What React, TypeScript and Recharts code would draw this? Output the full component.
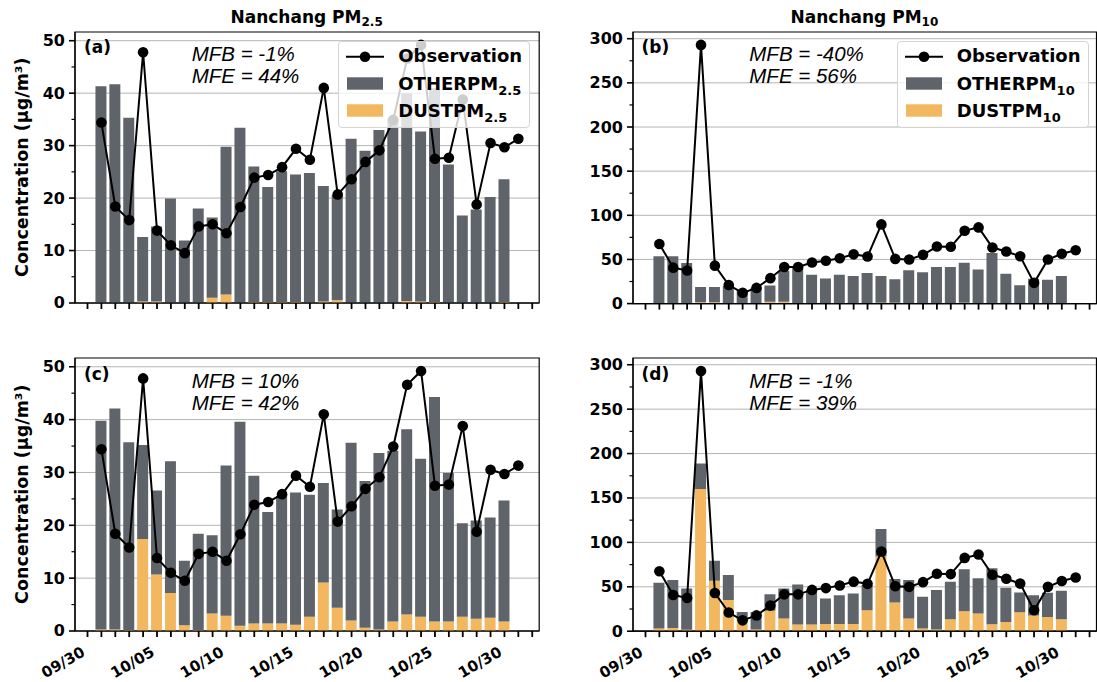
import React from 'react';
import { ComposedChart, Bar, Line, XAxis, YAxis, CartesianGrid, ReferenceArea, Legend } from 'recharts';

// days since 09/30
const DAYS = [1, 2, 3, 4, 5, 6, 7, 8, 9, 10, 11, 12, 13, 14, 15, 16, 17, 18, 19, 20, 21, 22, 23, 24, 25, 26, 27, 28, 29, 30, 31];
const DAY_TICKS = [0, 1, 2, 3, 4, 5, 6, 7, 8, 9, 10, 11, 12, 13, 14, 15, 16, 17, 18, 19, 20, 21, 22, 23, 24, 25, 26, 27, 28, 29, 30, 31, 32];
const DATE_TICKS = [0, 5, 10, 15, 20, 25, 30];
const DATE_LABELS = ['09/30', '10/05', '10/10', '10/15', '10/20', '10/25', '10/30'];

const OBS_PM25 = [34.4, 18.4, 15.8, 47.8, 13.8, 11.0, 9.5, 14.6, 15.0, 13.3, 18.3, 23.9, 24.4, 25.9, 29.4, 27.3, 41.0, 20.7, 23.6, 26.9, 29.1, 34.9, 46.6, 49.2, 27.5, 27.7, 38.8, 18.8, 30.5, 29.7, 31.3];
const OBS_PM10 = [67.5, 40.7, 37.5, 293, 43, 21, 12.2, 17.8, 28.8, 41.5, 41.5, 46.5, 48.5, 51.4, 55.8, 53.3, 89.7, 50.6, 49.9, 55.2, 64.6, 64.3, 82.5, 86.3, 63.5, 59, 53.6, 23.5, 49.9, 56.5, 60.5];

// (a) PM2.5, first run
const OTHER_PM25_A = [41.3, 41.7, 35.3, 12.3, 14.3, 19.9, 11.9, 18.0, 15.3, 28.2, 33.4, 25.8, 21.9, 24.9, 24.3, 24.8, 22.0, 20.1, 31.3, 29.0, 33.0, 35.1, 39.6, 32.4, 40.8, 26.4, 16.7, 17.8, 20.2, 23.4];
const DUST_PM25_A = [0, 0, 0, 0.3, 0.3, 0, 0, 0, 1.0, 1.6, 0, 0.2, 0.2, 0.2, 0.2, 0, 0.3, 0.5, 0, 0, 0, 0, 0.4, 0.3, 0.2, 0, 0, 0, 0, 0.2];
// (b) PM10, first run
const OTHER_PM10_B = [53.5, 53.5, 45.9, 17.3, 17.3, 20, 15, 18, 18.4, 34.9, 40.7, 32.8, 28.3, 32.8, 31.2, 34.6, 30.2, 26.5, 37.7, 35.4, 41.4, 41.4, 45.4, 38.5, 57.2, 33.9, 20.7, 28, 27.1, 31.2];
const DUST_PM10_B = [0, 0, 0, 1.5, 1.5, 0, 0, 0, 2, 2, 0, 0, 0, 0, 0, 0, 1, 1, 0, 0, 0, 0, 1, 0, 0, 0, 0, 0, 0, 0];
// (c) PM2.5, second run
const OTHER_PM25_C = [39.5, 41.8, 35.5, 17.8, 15.9, 24.9, 12.2, 18.2, 14.8, 28.4, 38.6, 28.0, 21.1, 24.2, 25.0, 23.1, 18.8, 18.6, 33.6, 27.8, 33.4, 32.3, 35.1, 29.9, 42.5, 28.1, 17.7, 18.6, 19.0, 22.9];
const DUST_PM25_C = [0.3, 0.3, 0.2, 17.4, 10.7, 7.2, 1.1, 0.2, 3.3, 2.9, 1.0, 1.4, 1.4, 1.4, 1.2, 2.7, 9.2, 4.4, 2.0, 0.6, 0.3, 1.8, 3.1, 2.7, 1.8, 1.8, 2.7, 2.3, 2.5, 1.8];
// (d) PM10, second run
const OTHER_PM10_D = [51.6, 54.1, 46.7, 28.6, 22.6, 28.2, 9.4, 19.9, 18.8, 34.0, 45.3, 39.6, 28.8, 32.6, 34.5, 28.4, 31.2, 26.4, 43.4, 35.8, 44.3, 42.2, 47.2, 39.6, 63.0, 38.5, 22.3, 23.0, 27.1, 32.0];
const DUST_PM10_D = [2.9, 3.5, 1.5, 160.2, 56.8, 35, 12.3, 1.8, 22.9, 14.2, 7.4, 7.4, 8, 8, 8, 23.6, 84, 32.3, 14.2, 2.9, 2, 13.5, 22.5, 19.9, 7.8, 10.4, 21.4, 17.6, 16.1, 13.5];

const PM25_TICKS = [0, 5, 10, 15, 20, 25, 30, 35, 40, 45, 50];
const PM25_MAJOR = [0, 10, 20, 30, 40, 50];
const PM10_TICKS = [0, 25, 50, 75, 100, 125, 150, 175, 200, 225, 250, 275, 300];
const PM10_MAJOR = [0, 50, 100, 150, 200, 250, 300];

const OTHER_COLOR = '#5f646a';
const DUST_COLOR = '#f2b75f';
const FONT = '"DejaVu Sans", sans-serif';
const ARIAL = '"Liberation Sans", Arial, sans-serif';
const X_DOMAIN: [number, number] = [-0.9, 32.5];

// chart margins around the plot box
const YW = 70;
const MT = 10;
const MR = 5;
const XH = 50;

function buildRows(obs: number[], other: number[], dust: number[]) {
  return DAYS.map((d, i) => ({
    day: d,
    obs: obs[i],
    other: i < other.length ? other[i] : null,
    dust: i < dust.length ? dust[i] : null,
  }));
}

const YTick = (props: any) => {
  const { x, y, payload, majors } = props;
  const major = majors.includes(payload.value);
  return (
    <g>
      <line x1={x - (major ? 6 : 3.5)} x2={x} y1={y} y2={y} stroke="#000" strokeWidth={major ? 1.6 : 1.2} />
      {major && (
        <text x={x - 10} y={y} textAnchor="end" dominantBaseline="central" fontFamily={FONT} fontWeight="bold" fontSize={16} fill="#000">
          {payload.value}
        </text>
      )}
    </g>
  );
};

const XTick = (props: any) => {
  const { x, y, payload, showLabels } = props;
  const idx = DATE_TICKS.indexOf(payload.value);
  const tx = x - 1.5;
  const ty = y + 24;
  return (
    <g>
      <line x1={x} x2={x} y1={y} y2={y + 6} stroke="#000" strokeWidth={1.8} />
      {showLabels && idx >= 0 && (
        <text x={tx} y={ty} transform={`rotate(-30 ${tx} ${ty})`} textAnchor="end" fontFamily={FONT} fontWeight="bold" fontSize={15} fill="#000">
          {DATE_LABELS[idx]}
        </text>
      )}
    </g>
  );
};

const LegendBox = ({ sub }: { sub: string }) => {
  const text = (top: number): React.CSSProperties => ({
    position: 'absolute', left: 59, top: top - 11, height: 22, lineHeight: '22px', whiteSpace: 'nowrap',
  });
  const subStyle: React.CSSProperties = { fontSize: 13, position: 'relative', top: 5 };
  return (
    <div
      style={{
        position: 'relative', width: 192, height: 87, boxSizing: 'border-box',
        background: 'rgba(255,255,255,0.8)', border: '1px solid #d4d4d4', borderRadius: 4,
        fontFamily: FONT, fontWeight: 'bold', fontSize: 18, color: '#000',
      }}
    >
      <svg width={50} height={87} style={{ position: 'absolute', left: 0, top: 0 }}>
        <line x1={7} x2={45} y1={14.8} y2={14.8} stroke="#000" strokeWidth={2} />
        <circle cx={26} cy={14.8} r={5.3} fill="#000" />
        <rect x={8} y={35.3} width={36} height={12.4} fill={OTHER_COLOR} />
        <rect x={8} y={62.3} width={36} height={12.4} fill={DUST_COLOR} />
      </svg>
      <div style={text(14.8)}>Observation</div>
      <div style={text(42.3)}>OTHERPM<span style={subStyle}>{sub}</span></div>
      <div style={text(69)}>DUSTPM<span style={subStyle}>{sub}</span></div>
    </div>
  );
};

interface PanelProps {
  left: number;
  top: number;
  plotW: number;
  plotH: number;
  obs: number[];
  other: number[];
  dust: number[];
  yMax: number;
  yTicks: number[];
  yMajors: number[];
  showDates: boolean;
  legend?: { left: number; top: number; sub: string };
}

function Panel({ left, top, plotW, plotH, obs, other, dust, yMax, yTicks, yMajors, showDates, legend }: PanelProps) {
  const data = buildRows(obs, other, dust);
  const chartLeft = left - YW;
  const chartTop = top - MT;
  return (
    <div style={{ position: 'absolute', left: chartLeft, top: chartTop }}>
      <ComposedChart width={YW + plotW + MR} height={MT + plotH + XH} data={data} margin={{ top: MT, right: MR, bottom: 0, left: 0 }}>
        <CartesianGrid vertical={false} horizontalValues={yMajors} stroke="#b4b4b4" strokeWidth={1} />
        <XAxis
          dataKey="day"
          type="number"
          domain={X_DOMAIN}
          ticks={DAY_TICKS}
          interval={0}
          tickSize={0}
          tickMargin={0}
          tickLine={false}
          allowDataOverflow
          height={XH}
          axisLine={{ stroke: '#000', strokeWidth: 1.2 }}
          tick={(p: any) => <XTick {...p} showLabels={showDates} />}
        />
        <YAxis
          type="number"
          domain={[0, yMax]}
          ticks={yTicks}
          interval={0}
          tickSize={0}
          tickMargin={0}
          tickLine={false}
          allowDataOverflow
          width={YW}
          axisLine={{ stroke: '#000', strokeWidth: 1.2 }}
          tick={(p: any) => <YTick {...p} majors={yMajors} />}
        />
        <Bar dataKey="dust" stackId="model" fill={DUST_COLOR} barSize={11} isAnimationActive={false} />
        <Bar dataKey="other" stackId="model" fill={OTHER_COLOR} barSize={11} isAnimationActive={false} />
        <Line
          type="linear"
          dataKey="obs"
          stroke="#000"
          strokeWidth={2}
          dot={{ r: 5.3, fill: '#000', stroke: '#000', strokeWidth: 0 }}
          activeDot={false}
          isAnimationActive={false}
        />
        <ReferenceArea x1={X_DOMAIN[0]} x2={X_DOMAIN[1]} y1={0} y2={yMax} fill="none" stroke="#000" strokeWidth={1.2} />
        {legend && (
          <Legend
            layout="horizontal"
            verticalAlign="middle"
            align="center"
            wrapperStyle={{ left: legend.left - chartLeft, top: legend.top - chartTop, width: 192, height: 87 }}
            content={() => <LegendBox sub={legend.sub} />}
          />
        )}
      </ComposedChart>
    </div>
  );
}

const Stats = ({ x, y, tag, mfb, mfe }: { x: number; y: number; tag: string; mfb: string; mfe: string }) => (
  <g>
    <text x={x - 107.7} y={y - 8.2} fontFamily={FONT} fontWeight="bold" fontSize={17} fill="#000">{tag}</text>
    <text x={x} y={y} fontFamily={ARIAL} fontStyle="italic" fontSize={20.5} fill="#000">{`MFB = ${mfb}`}</text>
    <text x={x} y={y + 22.6} fontFamily={ARIAL} fontStyle="italic" fontSize={20.5} fill="#000">{`MFE = ${mfe}`}</text>
  </g>
);

export default function App() {
  return (
    <div style={{ position: 'absolute', left: 0, top: 0, width: 1097, height: 682, overflow: 'hidden', background: '#fff' }}>
      <Panel left={74.5} top={31.7} plotW={464.2} plotH={271} obs={OBS_PM25} other={OTHER_PM25_A} dust={DUST_PM25_A}
        yMax={51.66} yTicks={PM25_TICKS} yMajors={PM25_MAJOR} showDates={false}
        legend={{ left: 338.3, top: 40.7, sub: '2.5' }} />
      <Panel left={632.7} top={31.7} plotW={463.5} plotH={271.6} obs={OBS_PM10} other={OTHER_PM10_B} dust={DUST_PM10_B}
        yMax={307.6} yTicks={PM10_TICKS} yMajors={PM10_MAJOR} showDates={false}
        legend={{ left: 896.7, top: 40.7, sub: '10' }} />
      <Panel left={74.5} top={357.7} plotW={464.2} plotH={273} obs={OBS_PM25} other={OTHER_PM25_C} dust={DUST_PM25_C}
        yMax={51.66} yTicks={PM25_TICKS} yMajors={PM25_MAJOR} showDates />
      <Panel left={632.7} top={357.7} plotW={463.5} plotH={273.2} obs={OBS_PM10} other={OTHER_PM10_D} dust={DUST_PM10_D}
        yMax={307.6} yTicks={PM10_TICKS} yMajors={PM10_MAJOR} showDates />

      <svg width={1097} height={682} style={{ position: 'absolute', left: 0, top: 0, pointerEvents: 'none' }}>
        <text x={306.6} y={22.7} textAnchor="middle" fontFamily={FONT} fontWeight="bold" fontSize={17} fill="#000">
          Nanchang PM<tspan fontSize={12} dy={3.5}>2.5</tspan>
        </text>
        <text x={864.4} y={22.7} textAnchor="middle" fontFamily={FONT} fontWeight="bold" fontSize={17} fill="#000">
          Nanchang PM<tspan fontSize={12} dy={3.5}>10</tspan>
        </text>
        <text transform="translate(28,167.2) rotate(-90)" textAnchor="middle" fontFamily={FONT} fontWeight="bold" fontSize={17.5} fill="#000">
          Concentration (μg/m³)
        </text>
        <text transform="translate(28,494.2) rotate(-90)" textAnchor="middle" fontFamily={FONT} fontWeight="bold" fontSize={17.5} fill="#000">
          Concentration (μg/m³)
        </text>
        <Stats x={191.7} y={60.7} tag="(a)" mfb="-1%" mfe="44%" />
        <Stats x={749.3} y={60.7} tag="(b)" mfb="-40%" mfe="56%" />
        <Stats x={191.7} y={387.7} tag="(c)" mfb="10%" mfe="42%" />
        <Stats x={749.3} y={387.7} tag="(d)" mfb="-1%" mfe="39%" />
      </svg>
    </div>
  );
}
